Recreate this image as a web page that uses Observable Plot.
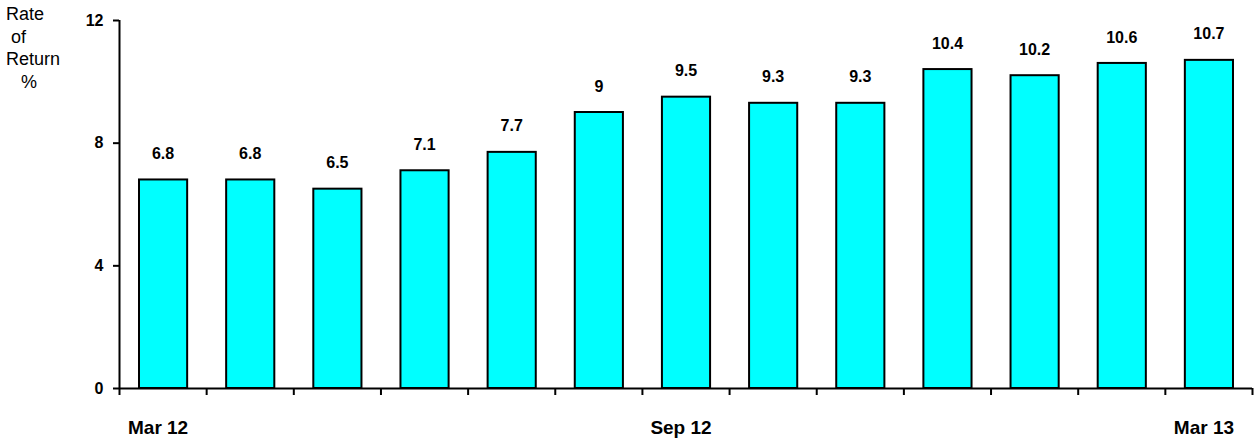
<!DOCTYPE html>
<html><head><meta charset="utf-8">
<script src="https://cdn.jsdelivr.net/npm/d3@7"></script>
<script src="https://cdn.jsdelivr.net/npm/@observablehq/plot@0.6"></script>
<style>
html,body{margin:0;padding:0;background:#fff;}
#wrap{position:relative;width:1254px;height:443px;font-family:"Liberation Sans",Arial,sans-serif;}
#wrap svg{position:absolute;left:0;top:0;}
#ytitle{position:absolute;left:6px;top:3px;font-size:18px;line-height:22.5px;white-space:pre;color:#000;z-index:2;}
</style></head>
<body><div id="wrap"><div id="ytitle">Rate
 of
Return
   %</div></div>
<script>
const months = ["Mar 12","Apr 12","May 12","Jun 12","Jul 12","Aug 12","Sep 12","Oct 12","Nov 12","Dec 12","Jan 13","Feb 13","Mar 13"];
const values = [6.8, 6.8, 6.5, 7.1, 7.7, 9, 9.5, 9.3, 9.3, 10.4, 10.2, 10.6, 10.7];
const tickLabels = ["Mar 12","","","","","","Sep 12","","","","","","Mar 13"];
const yTicks = [0, 4, 8, 12];

const data = months.map((m, i) => ({i, month: m, value: values[i], label: tickLabels[i]}));

const chart = Plot.plot({
  width: 1254, height: 443,
  marginLeft: 119, marginRight: 2, marginTop: 20, marginBottom: 55,
  style: {fontFamily: "'Liberation Sans', Arial, sans-serif", background: "transparent", overflow: "visible"},
  x: {type: "linear", domain: [0, months.length], axis: null},
  y: {domain: [0, 12], axis: null},
  marks: [
    Plot.rectY(data, {x1: d => d.i, x2: d => d.i + 1, y: "value", insetLeft: 20, insetRight: 19, fill: "#00FFFF", stroke: "#000", strokeWidth: 2}),
    Plot.ruleX([0], {y1: 0, y2: 12, stroke: "#000", strokeWidth: 2}),
    Plot.ruleY([0], {stroke: "#000", strokeWidth: 2}),
    Plot.axisX({ticks: d3.range(months.length + 1), tickSize: 7, tickFormat: () => "", label: null, strokeWidth: 2}),
    Plot.axisY({ticks: yTicks, tickSize: 6, tickPadding: 10, tickFormat: d3.format("d"), label: null, fontSize: 16, fontWeight: "bold", strokeWidth: 2, fill: "#000"}),
    Plot.text(data, {x: d => d.i + 0.5, y: "value", text: d => String(d.value), dy: -26, fontSize: 16, fontWeight: "bold", fill: "#000"}),
    Plot.text(data, {x: d => d.i + 0.5, y: 0, text: "label", dy: 39, dx: -5, fontSize: 19, fontWeight: "bold", fill: "#000"})
  ]
});
document.getElementById("wrap").prepend(chart);
</script></body></html>
